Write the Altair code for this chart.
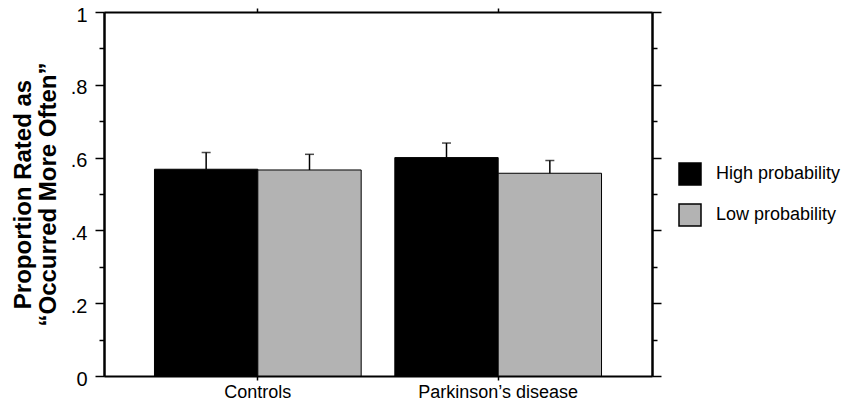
import altair as alt
import pandas as pd

group_order = ["Controls", "Parkinson’s disease"]
cond_order = ["High probability", "Low probability"]
groups = ["Controls", "Controls", "Parkinson’s disease", "Parkinson’s disease"]
conditions = ["High probability", "Low probability", "High probability", "Low probability"]
means = [0.568, 0.566, 0.600, 0.557]
uppers = [0.614, 0.609, 0.640, 0.592]
colors = ["#000000", "#b3b3b3"]
major_ticks = [0, 0.2, 0.4, 0.6, 0.8, 1.0]
minor_ticks = [0.1, 0.3, 0.5, 0.7, 0.9]

df = pd.DataFrame({"group": groups, "condition": conditions, "mean": means, "upper": uppers})

FONT = "Liberation Sans"

common_axis = dict(domainColor="black", domainWidth=2, tickColor="black", tickWidth=1.5,
                   grid=False, labelFont=FONT, labelColor="black")

xscale = alt.Scale(paddingInner=0.14, paddingOuter=0.21)
xoscale = alt.Scale(paddingInner=0, paddingOuter=0)
yscale = alt.Scale(domain=[0, 1], nice=False, zero=True)

def X(axis):
    return alt.X("group:N", sort=group_order, scale=xscale, axis=axis)

xoff = alt.XOffset("condition:N", sort=cond_order, scale=xoscale)

bars = alt.Chart(df).mark_bar(stroke="black", strokeWidth=1).encode(
    x=X(alt.Axis(orient="bottom", tickSize=4, labelFontSize=18, labelPadding=3,
                 labelAngle=0, title=None, **common_axis)),
    xOffset=xoff,
    y=alt.Y("mean:Q", scale=yscale,
            axis=alt.Axis(orient="left", values=major_ticks, tickSize=9, labelFontSize=20,
                          labelPadding=8, labelOffset=3,
                          labelExpr="datum.value == 0 ? '0' : datum.value == 1 ? '1' : replace(format(datum.value, '.1f'), '0.', '.')",
                          title=["Proportion Rated as", "“Occurred More Often”"],
                          titleFont=FONT, titleFontSize=24, titleFontWeight="bold",
                          titleColor="black", titleLineHeight=25, titlePadding=10,
                          **common_axis)),
    color=alt.Color("condition:N", sort=cond_order,
                    scale=alt.Scale(domain=cond_order, range=colors),
                    legend=alt.Legend(title=None, orient="none", legendX=574, legendY=150,
                                      symbolType="square", symbolSize=484,
                                      symbolStrokeColor="black", symbolStrokeWidth=1.5,
                                      symbolOpacity=1, labelFont=FONT, labelFontSize=18,
                                      labelColor="black", labelOffset=14, rowPadding=13,
                                      padding=0)),
)

err = alt.Chart(df).mark_rule(color="black", strokeWidth=1.5).encode(
    x=X(None),
    xOffset=xoff,
    y=alt.Y("mean:Q", scale=yscale,
            axis=alt.Axis(orient="left", values=minor_ticks, tickSize=5, labels=False,
                          title=None, **common_axis)),
    y2="upper:Q",
)

caps = alt.Chart(df).mark_tick(color="black", thickness=1.5, size=9, orient="horizontal").encode(
    x=X(alt.Axis(orient="top", tickSize=4, labels=False, title=None, **common_axis)),
    xOffset=xoff,
    y=alt.Y("upper:Q", scale=yscale,
            axis=alt.Axis(orient="right", values=major_ticks, tickSize=9, labels=False,
                          title=None, **common_axis)),
)

ghost = alt.Chart(df).mark_tick(opacity=0).encode(
    x=X(None),
    xOffset=xoff,
    y=alt.Y("upper:Q", scale=yscale,
            axis=alt.Axis(orient="right", values=minor_ticks, tickSize=5, labels=False,
                          title=None, **common_axis)),
)

chart = alt.layer(bars, err, caps, ghost).resolve_axis(
    x="independent", y="independent"
).properties(
    width=548, height=364,
    autosize=alt.AutoSizeParams(type="none"),
    padding={"left": 96, "top": 4, "right": 190, "bottom": 25},
).configure_view(stroke=None).configure(background="white")

chart.save("out.html", embed_options={"renderer": "svg", "actions": False})
